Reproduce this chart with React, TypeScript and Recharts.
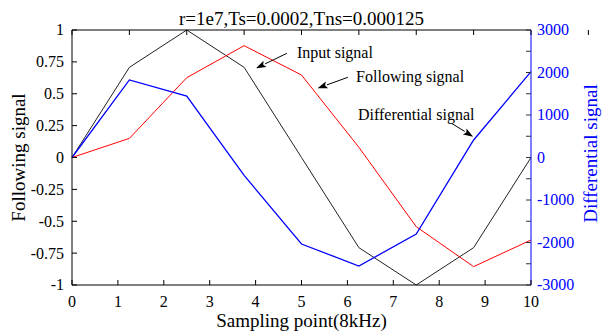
import React from "react";
import { LineChart, Line, XAxis, YAxis, ReferenceLine, ReferenceDot, Label } from "recharts";

const samplePoints = [0, 1.25, 2.5, 3.75, 5, 6.25, 7.5, 8.75, 10];
const inputSignal = [0, 0.707, 1, 0.707, 0, -0.707, -1, -0.707, 0];
const followingSignal = [0, 0.15, 0.626, 0.877, 0.647, 0.08, -0.543, -0.856, -0.647];
const differentialSignal = [0, 1824, 1447, -420, -2035, -2553, -1800, 412, 2019];

const xTicks = [0, 1, 2, 3, 4, 5, 6, 7, 8, 9, 10];
const leftTicks = [-1, -0.75, -0.5, -0.25, 0, 0.25, 0.5, 0.75, 1];
const rightTicks = [-3000, -2500, -2000, -1500, -1000, -500, 0, 500, 1000, 1500, 2000, 2500, 3000];

const titleText = "r=1e7,Ts=0.0002,Tns=0.000125";

// annotation texts and arrows, in data units (bottom x / left y)
const notes = [
  { text: "Input signal", tx: 4.9, ty: 0.82, from: [4.68, 0.817], to: [4.01, 0.7] },
  { text: "Following signal", tx: 6.19, ty: 0.631, from: [6.01, 0.629], to: [5.35, 0.543] },
  { text: "Differential signal", tx: 6.23, ty: 0.333, from: [8.27, 0.268], to: [8.74, 0.163] },
];

const data = samplePoints.map((x, i) => ({
  x,
  input: inputSignal[i],
  following: followingSignal[i],
  differential: differentialSignal[i],
}));

const FONT = '"Liberation Serif", "Times New Roman", serif';
const BLUE = "#0000ff";

const BottomTick = (p: any) => (
  <g>
    <line x1={p.x} y1={p.y} x2={p.x} y2={p.y - 5} stroke="#000" />
    <text x={p.x} y={p.y + 22} textAnchor="middle" fontSize={16} fontFamily={FONT} fill="#000">
      {p.payload.value}
    </text>
  </g>
);

const TopTick = (p: any) => <line x1={p.x} y1={p.y} x2={p.x} y2={p.y + 5} stroke="#000" />;

const LeftTick = (p: any) => (
  <g>
    <line x1={p.x} y1={p.y} x2={p.x + 5} y2={p.y} stroke="#000" />
    <text x={p.x - 8} y={p.y} dy="0.34em" textAnchor="end" fontSize={16} fontFamily={FONT} fill="#000">
      {p.payload.value}
    </text>
  </g>
);

const RightTick = (p: any) => {
  const v = p.payload.value;
  return (
    <g>
      <line x1={p.x} y1={p.y} x2={p.x - 5} y2={p.y} stroke="#333" />
      {v % 1000 === 0 && (
        <text x={p.x + 6} y={p.y} dy="0.34em" textAnchor="start" fontSize={16} fontFamily={FONT} fill={BLUE}>
          {v}
        </text>
      )}
    </g>
  );
};

const Arrow = (p: any) => {
  const { x1, y1, x2, y2 } = p;
  const dx = x2 - x1;
  const dy = y2 - y1;
  const len = Math.sqrt(dx * dx + dy * dy) || 1;
  const ux = dx / len;
  const uy = dy / len;
  const head = 10;
  const half = 3.5;
  const bx = x2 - ux * head;
  const by = y2 - uy * head;
  return (
    <g>
      <line x1={x1} y1={y1} x2={bx} y2={by} stroke="#000" strokeWidth={1} />
      <polygon
        points={`${x2},${y2} ${bx - uy * half},${by + ux * half} ${bx + ux * 2},${by + uy * 2} ${bx + uy * half},${by - ux * half}`}
        fill="#000"
      />
    </g>
  );
};

export default function App() {
  return (
    <div style={{ position: "absolute", left: 0, top: 0, background: "#fff" }}>
      <LineChart width={602} height={335} data={data} margin={{ top: 29, right: 11, bottom: 0, left: 12 }}>
        <XAxis
          dataKey="x"
          type="number"
          domain={[0, 10]}
          ticks={xTicks}
          interval={0}
          tickSize={0}
          tickMargin={0}
          tickLine={false}
          tick={BottomTick}
          height={50}
          axisLine={{ stroke: "#000" }}
        >
          <Label
            content={(p: any) => (
              <text
                x={p.viewBox.x + p.viewBox.width / 2}
                y={p.viewBox.y + 42}
                textAnchor="middle"
                fontSize={19}
                fontFamily={FONT}
                fill="#000"
              >
                Sampling point(8kHz)
              </text>
            )}
          />
        </XAxis>
        <XAxis
          xAxisId="top"
          orientation="top"
          type="number"
          domain={[0, 10]}
          ticks={xTicks}
          interval={0}
          tickSize={0}
          tickMargin={0}
          tickLine={false}
          tick={TopTick}
          height={1}
          axisLine={{ stroke: "#000" }}
        >
          <Label
            content={(p: any) => (
              <text
                x={p.viewBox.x + p.viewBox.width / 2}
                y={25}
                textAnchor="middle"
                fontSize={19}
                fontFamily={FONT}
                fill="#000"
              >
                {titleText}
              </text>
            )}
          />
        </XAxis>
        <YAxis
          yAxisId="left"
          type="number"
          domain={[-1, 1]}
          ticks={leftTicks}
          interval={0}
          width={60}
          tickSize={0}
          tickMargin={0}
          tickLine={false}
          tick={LeftTick}
          axisLine={{ stroke: "#000" }}
        >
          <Label
            content={(p: any) => {
              const cx = 19;
              const cy = p.viewBox.y + p.viewBox.height / 2;
              return (
                <text
                  x={cx}
                  y={cy}
                  transform={`rotate(-90 ${cx} ${cy})`}
                  textAnchor="middle"
                  dy="0.34em"
                  fontSize={19}
                  fontFamily={FONT}
                  fill="#000"
                >
                  Following signal
                </text>
              );
            }}
          />
        </YAxis>
        <YAxis
          yAxisId="right"
          orientation="right"
          type="number"
          domain={[-3000, 3000]}
          ticks={rightTicks}
          interval={0}
          width={60}
          tickSize={0}
          tickMargin={0}
          tickLine={false}
          tick={RightTick}
          axisLine={{ stroke: BLUE }}
        >
          <Label
            content={(p: any) => {
              const cx = 591;
              const cy = p.viewBox.y + p.viewBox.height / 2 - 4;
              return (
                <text
                  x={cx}
                  y={cy}
                  transform={`rotate(-90 ${cx} ${cy})`}
                  textAnchor="middle"
                  dy="0.34em"
                  fontSize={19}
                  fontFamily={FONT}
                  fill={BLUE}
                >
                  Differential signal
                </text>
              );
            }}
          />
        </YAxis>
        <Line
          yAxisId="left"
          type="linear"
          dataKey="input"
          stroke="#222"
          strokeWidth={1}
          dot={false}
          isAnimationActive={false}
        />
        <Line
          yAxisId="left"
          type="linear"
          dataKey="following"
          stroke="#ff0000"
          strokeWidth={1}
          dot={false}
          isAnimationActive={false}
        />
        <Line
          yAxisId="right"
          type="linear"
          dataKey="differential"
          stroke={BLUE}
          strokeWidth={1.3}
          dot={false}
          isAnimationActive={false}
        />
        {notes.map((n) => (
          <ReferenceLine
            key={n.text + "-arrow"}
            yAxisId="left"
            segment={[
              { x: n.from[0], y: n.from[1] },
              { x: n.to[0], y: n.to[1] },
            ]}
            shape={Arrow}
          />
        ))}
        {notes.map((n) => (
          <ReferenceDot
            key={n.text}
            yAxisId="left"
            x={n.tx}
            y={n.ty}
            r={0}
            shape={(p: any) => (
              <text x={p.cx} y={p.cy} dy="0.34em" textAnchor="start" fontSize={16} fontFamily={FONT} fill="#000">
                {n.text}
              </text>
            )}
          />
        ))}
      </LineChart>
    </div>
  );
}
